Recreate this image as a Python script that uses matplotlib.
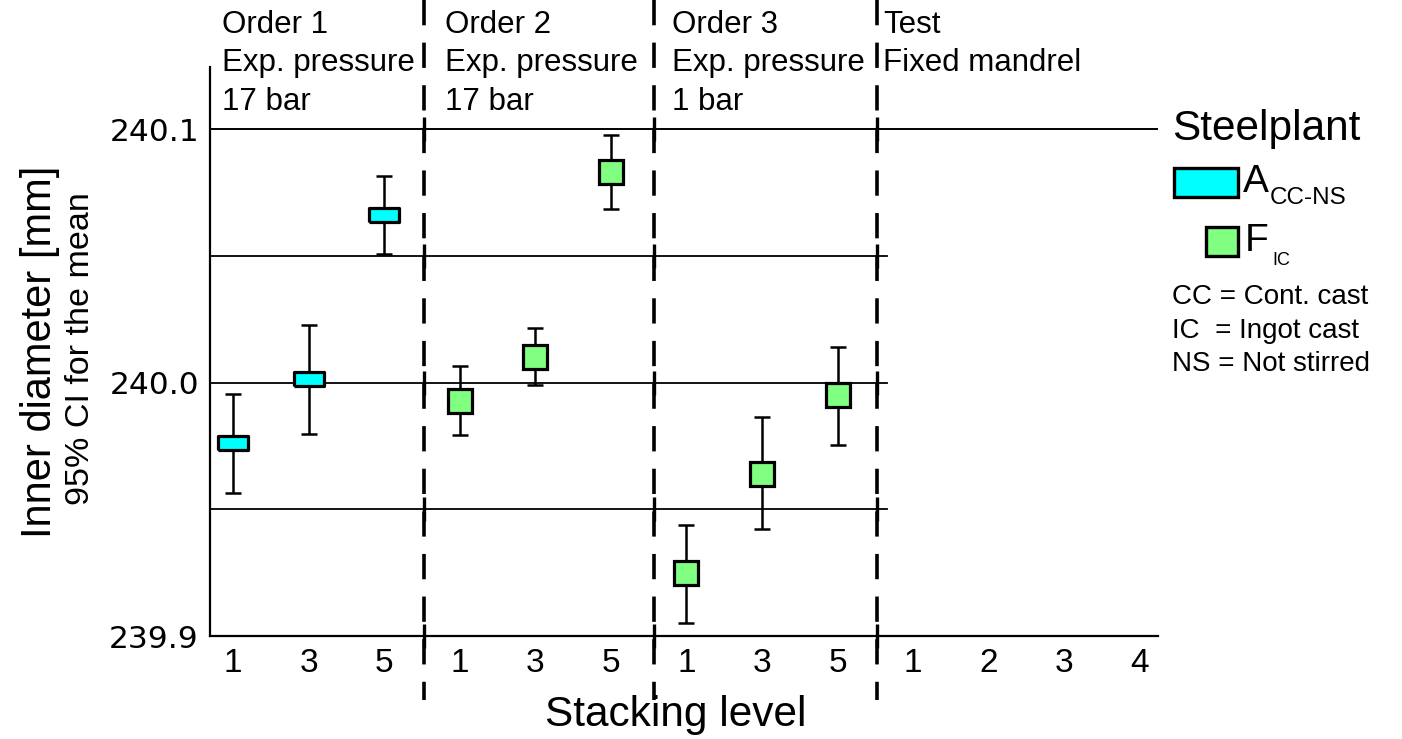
import numpy as np
import matplotlib
matplotlib.use("Agg")
import matplotlib.pyplot as plt
import matplotlib.transforms as mtransforms
from matplotlib.patches import Rectangle

# stacking level tick labels (13 slots: 3 orders x 3 levels + 4 test levels)
tick_labels = ['1', '3', '5', '1', '3', '5', '1', '3', '5', '1', '2', '3', '4']

# steelplant A (cont. cast, not stirred) - order 1
a_pos = [0, 1, 2]
a_mean = [239.9762, 240.0013, 240.0661]
a_low = [239.9565, 239.9797, 240.0508]
a_high = [239.9954, 240.0227, 240.0813]

# steelplant F (ingot cast) - orders 2 and 3
f_pos = [3, 4, 5, 6, 7, 8]
f_mean = [239.9929, 240.0101, 240.0830, 239.9249, 239.9641, 239.9950]
f_low = [239.9792, 239.9989, 240.0683, 239.9052, 239.9421, 239.9753]
f_high = [240.0067, 240.0216, 240.0976, 239.9439, 239.9864, 240.0142]

group_labels = ['Order 1\nExp. pressure\n17 bar',
                'Order 2\nExp. pressure\n17 bar',
                'Order 3\nExp. pressure\n1 bar',
                'Test\nFixed mandrel']
group_x = [-0.15, 2.80, 5.81, 8.60]
separators = [2.53, 5.57, 8.52]

SANS = 'Liberation Sans'
W, H = 1402, 739

fig = plt.figure(figsize=(W / 100, H / 100), dpi=100)
ax = fig.add_axes([210 / W, 1 - 636 / H, (1158 - 210) / W, (636 - 67) / H])
ax.set_xlim(-0.304, 12.24)
ax.set_ylim(239.9, 240.1245)

for s in ['top', 'right']:
    ax.spines[s].set_visible(False)
for s in ['left', 'bottom']:
    ax.spines[s].set_linewidth(1.6)

# reference lines
ax.axhline(240.1, color='black', lw=1.4, zorder=1)
for yv in [240.05, 240.0, 239.95]:
    ax.plot([-0.304, 8.65], [yv, yv], color='black', lw=1.3, zorder=1, clip_on=False)

# dashed group separators, running above and below the plot area
trans = mtransforms.blended_transform_factory(ax.transData, ax.transAxes)
for xs in separators:
    ax.plot([xs, xs], [1.118, -0.1125], transform=trans, color='black', lw=2.6,
            linestyle=(0, (7.0, 4.8)), clip_on=False, zorder=2)
    ys = [240.1, 240.05, 240.0, 239.95, 239.9] if xs < 8.6 else [240.1, 239.9]
    ax.plot([xs] * len(ys), ys, linestyle='none', marker='|', ms=17, mew=2.4,
            color='black', clip_on=False, zorder=2)

# error bars
a_err = [np.subtract(a_mean, a_low), np.subtract(a_high, a_mean)]
f_err = [np.subtract(f_mean, f_low), np.subtract(f_high, f_mean)]
ax.errorbar(a_pos, a_mean, yerr=a_err, fmt='none', ecolor='black', elinewidth=1.8,
            capsize=5.8, capthick=1.8, zorder=3)
ax.errorbar(f_pos, f_mean, yerr=f_err, fmt='none', ecolor='black', elinewidth=1.8,
            capsize=5.8, capthick=1.8, zorder=3)

rect_marker = [(-1, -0.48), (1, -0.48), (1, 0.48), (-1, 0.48), (-1, -0.48)]
ax.plot(a_pos, a_mean, linestyle='none', marker=rect_marker, ms=21,
        mfc='#00FFFF', mec='black', mew=2.3, zorder=4)
ax.plot(f_pos, f_mean, linestyle='none', marker='s', ms=17,
        mfc='#80FF80', mec='black', mew=2.3, zorder=4)

# ticks
ax.set_yticks([239.9, 240.0, 240.1])
ax.set_yticklabels(['239.9', '240.0', '240.1'], fontsize=22.5, family='DejaVu Sans')
ax.tick_params(axis='y', length=0, pad=8)
ax.set_xticks(range(len(tick_labels)))
ax.set_xticklabels(tick_labels, fontsize=24, family=SANS)
ax.tick_params(axis='x', length=0, pad=9)

# group headers
for lbl, gx in zip(group_labels, group_x):
    ax.text(gx, 1.100, lbl, transform=trans, ha='left', va='top', fontsize=22.5,
            family=SANS, linespacing=1.36)

# axis labels
fig.text(676 / W, 1 - 715 / H, 'Stacking level', ha='center', va='center',
         fontsize=30.5, family=SANS)
fig.text(40 / W, 1 - 352 / H, 'Inner diameter [mm]', rotation=90, ha='center',
         va='center', fontsize=30, family=SANS)
fig.text(81 / W, 1 - 349 / H, '95% CI for the mean', rotation=90, ha='center',
         va='center', fontsize=24.5, family=SANS)

# legend
fig.text(1172 / W, 1 - 129 / H, 'Steelplant', ha='left', va='center',
         fontsize=30.5, family=SANS)
fig.patches.append(Rectangle((1174 / W, 1 - 197 / H), 64 / W, 29 / H,
                             transform=fig.transFigure, facecolor='#00FFFF',
                             edgecolor='black', lw=2.4))
fig.text(1243 / W, 1 - 182 / H, 'A', ha='left', va='center', fontsize=28, family=SANS)
fig.text(1270 / W, 1 - 198 / H, 'CC-NS', ha='left', va='center', fontsize=17.5, family=SANS)
fig.patches.append(Rectangle((1206 / W, 1 - 256 / H), 32 / W, 29 / H,
                             transform=fig.transFigure, facecolor='#80FF80',
                             edgecolor='black', lw=2.4))
fig.text(1245 / W, 1 - 241 / H, 'F', ha='left', va='center', fontsize=28, family=SANS)
fig.text(1272 / W, 1 - 261 / H, 'IC', ha='left', va='center', fontsize=13, family=SANS)

notes = ['CC = Cont. cast', 'IC  = Ingot cast', 'NS = Not stirred']
for k, note in enumerate(notes):
    fig.text(1172 / W, 1 - (297 + 33.5 * k) / H, note, ha='left', va='center',
             fontsize=20, family=SANS)

fig.savefig('out.png', dpi=100)
